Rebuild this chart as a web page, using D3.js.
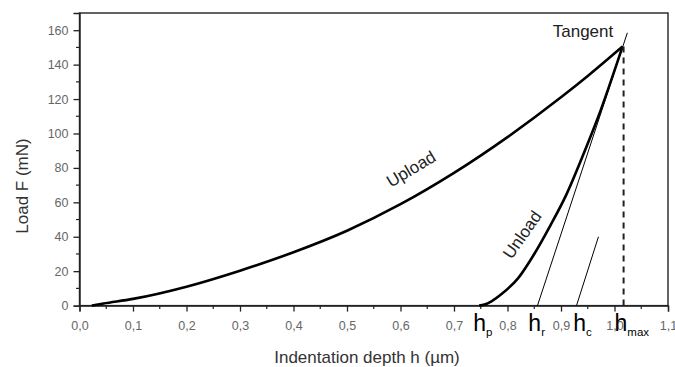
<!DOCTYPE html>
<html><head><meta charset="utf-8">
<script src="https://cdn.jsdelivr.net/npm/d3@7"></script>
<style>
html,body{margin:0;padding:0;background:#fff;}
svg{display:block;font-family:"Liberation Sans",Arial,sans-serif;}
</style></head>
<body><svg id="c" width="675" height="367"></svg>
<script>
// ---- data ----
const uploadH = [0.023, 0.045, 0.1, 0.2, 0.3, 0.4, 0.5, 0.6, 0.7, 0.8, 0.9, 0.95, 1.015];
const uploadF = [0, 1.2, 3.9, 11.0, 20.3, 31.0, 43.5, 58.9, 77.1, 97.9, 121.0, 133.4, 150.5];
const unloadH = [0.747, 0.757, 0.77, 0.79, 0.82, 0.85, 0.88, 0.91, 0.94, 0.97, 1.015];
const unloadF = [0, 0.6, 2.5, 7.0, 16.0, 30.0, 46.5, 64.5, 86.5, 110.0, 150.5];
const tangentH = [0.856, 1.024];
const tangentF = [0, 158.5];
const hcLineH = [0.929, 0.970];
const hcLineF = [0, 40];
const hmaxValue = 1.017;
const peakF = 150.5;
const xTicks = [0, 0.1, 0.2, 0.3, 0.4, 0.5, 0.6, 0.7, 0.8, 0.9, 1.0, 1.1];
const yTicks = [0, 20, 40, 60, 80, 100, 120, 140, 160];
const markerLabels = [
  {h: "h", sub: "p", x: 0.736},
  {h: "h", sub: "r", x: 0.839},
  {h: "h", sub: "c", x: 0.923},
  {h: "h", sub: "max", x: 1.0}
];

// ---- scales ----
const svg = d3.select("#c");
const x = d3.scaleLinear().domain([0, 1.1]).range([79.5, 668]);
const y = d3.scaleLinear().domain([0, 170]).range([305.6, 13]);
const fmt = d => d3.format(".1f")(d).replace(".", ",");

// frame
svg.append("rect").attr("x", x(0)).attr("y", y(170))
  .attr("width", x(1.1) - x(0)).attr("height", y(0) - y(170))
  .attr("fill", "none").attr("stroke", "#222").attr("stroke-width", 1.4);

// x axis
const xMinor = d3.range(0.05, 1.1, 0.1);
const gx = svg.append("g").attr("transform", `translate(0,${y(0)})`);
gx.call(d3.axisBottom(x).tickValues(xTicks).tickFormat(fmt).tickSize(6).tickPadding(10))
  .call(g => g.select(".domain").attr("stroke", "#222").attr("stroke-width", 1.4))
  .call(g => g.selectAll(".tick line").attr("stroke", "#222").attr("stroke-width", 1.3))
  .call(g => g.selectAll(".tick text").attr("fill", "#666").attr("font-size", 12.5)
        .attr("font-family", "Liberation Sans, Arial, sans-serif"));
gx.selectAll(".minor").data(xMinor).enter().append("line")
  .attr("x1", d => x(d)).attr("x2", d => x(d)).attr("y1", 0).attr("y2", 3.5)
  .attr("stroke", "#222").attr("stroke-width", 1.2);

// y axis
const yMinor = d3.range(10, 170, 20);
const gy = svg.append("g").attr("transform", `translate(${x(0)},0)`);
gy.call(d3.axisLeft(y).tickValues(yTicks).tickSize(6).tickPadding(5))
  .call(g => g.select(".domain").attr("stroke", "#222").attr("stroke-width", 1.4))
  .call(g => g.selectAll(".tick line").attr("stroke", "#222").attr("stroke-width", 1.3))
  .call(g => g.selectAll(".tick text").attr("fill", "#666").attr("font-size", 12.5)
        .attr("font-family", "Liberation Sans, Arial, sans-serif"));
gy.selectAll(".minor").data(yMinor).enter().append("line")
  .attr("x1", 0).attr("x2", -3.5).attr("y1", d => y(d)).attr("y2", d => y(d))
  .attr("stroke", "#222").attr("stroke-width", 1.2);

// axis titles
svg.append("text").attr("x", 367).attr("y", 363).attr("text-anchor", "middle")
  .attr("font-size", 17).attr("fill", "#333").text("Indentation depth h (µm)");
svg.append("text").attr("transform", "translate(28,186) rotate(-90)").attr("text-anchor", "middle")
  .attr("font-size", 17).attr("fill", "#333").text("Load F (mN)");

// curves
const line = d3.line().x(d => x(d[0])).y(d => y(d[1])).curve(d3.curveMonotoneX);
const up = uploadH.map((h, i) => [h, uploadF[i]]);
const un = unloadH.map((h, i) => [h, unloadF[i]]);
svg.append("path").attr("d", line(up)).attr("fill", "none").attr("stroke", "#000").attr("stroke-width", 2.6);
svg.append("path").attr("d", line(un)).attr("fill", "none").attr("stroke", "#000").attr("stroke-width", 2.6);

const straight = d3.line().x(d => x(d[0])).y(d => y(d[1]));
svg.append("path").attr("d", straight(tangentH.map((h, i) => [h, tangentF[i]])))
  .attr("fill", "none").attr("stroke", "#000").attr("stroke-width", 1);
svg.append("path").attr("d", straight(hcLineH.map((h, i) => [h, hcLineF[i]])))
  .attr("fill", "none").attr("stroke", "#000").attr("stroke-width", 1);
svg.append("path").attr("d", straight([[hmaxValue, peakF], [hmaxValue, 0]]))
  .attr("fill", "none").attr("stroke", "#222").attr("stroke-width", 2).attr("stroke-dasharray", "6,5");

// curve labels
svg.append("text").attr("transform", "translate(414,174) rotate(-31)").attr("text-anchor", "middle")
  .attr("font-size", 17).attr("fill", "#222").text("Upload");
svg.append("text").attr("transform", "translate(527,238) rotate(-55)").attr("text-anchor", "middle")
  .attr("font-size", 17).attr("fill", "#222").text("Unload");
svg.append("text").attr("x", 583).attr("y", 37).attr("text-anchor", "middle")
  .attr("font-size", 17).attr("fill", "#222").text("Tangent");

// h labels
markerLabels.forEach(m => {
  const t = svg.append("text").attr("x", x(m.x)).attr("y", 331).attr("fill", "#000").attr("font-size", 23);
  t.append("tspan").text(m.h);
  t.append("tspan").attr("font-size", 11.5).attr("dy", 5).text(m.sub);
});
</script></body></html>
